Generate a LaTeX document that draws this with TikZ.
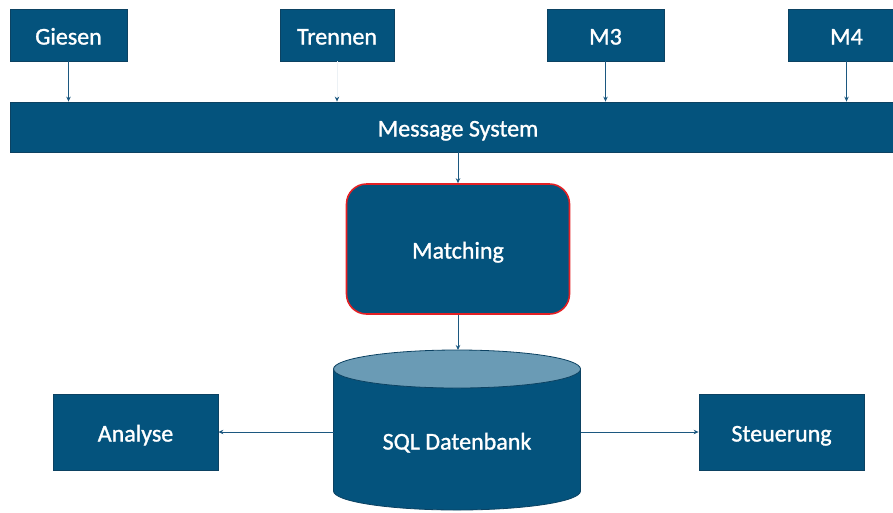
\documentclass[tikz,border=0pt]{standalone}
\usepackage{fontspec}
\setmainfont{Carlito}
\newfontfamily\boxfont{Carlito}[FakeBold=1.2]
\usetikzlibrary{arrows.meta}
\definecolor{boxblue}{RGB}{4,83,125}
\definecolor{edgeblue}{RGB}{12,66,98}
\definecolor{capblue}{RGB}{106,155,181}
\definecolor{linkblue}{RGB}{28,88,128}
\definecolor{faintlink}{RGB}{236,241,245}
\definecolor{alertred}{RGB}{228,32,36}

\begin{document}
\begin{tikzpicture}[x=1pt,y=-1pt,
  label text/.style={text=white, font=\boxfont\fontsize{24}{28}\selectfont,
    inner sep=0pt, text height=21pt, text depth=2pt},
  box/.style={label text, draw=edgeblue, fill=boxblue, line width=0.8pt},
  link/.style={draw=linkblue, line width=1pt, -{Stealth[length=5pt,width=4.5pt]}},
  faint link/.style={draw=faintlink, line width=1pt, -{Stealth[length=5pt,width=4.5pt,color=linkblue]}}]
\useasboundingbox (0,0) rectangle (893,512);

% producers feeding the message bus
\node[box, minimum width=117, minimum height=52] (giesen)  at (68.5,35)  {Giesen};
\node[box, minimum width=114, minimum height=52] (trennen) at (337,35)   {Trennen};
\node[box, minimum width=117, minimum height=52] (mthree)  at (605.5,35) {M3};
\node[box, minimum width=117, minimum height=52] (mfour)   at (846.5,35) {M4};

% message bus
\node[box, minimum width=896, minimum height=50] (bus) at (458,127) {Message System};

\draw[link]       (giesen.south)  -- (giesen.south  |- bus.north);
\draw[faint link] (trennen.south) -- (trennen.south |- bus.north);
\draw[link]       (mthree.south)  -- (mthree.south  |- bus.north);
\draw[link]       (mfour.south)   -- (mfour.south   |- bus.north);

% matching stage
\node[box, draw=alertred, line width=1.6pt, rounded corners=20pt,
      minimum width=223, minimum height=130] (match) at (458,249) {Matching};
\draw[link] (bus.south) -- (match.north);

% database cylinder
\fill[boxblue, draw=edgeblue, line width=0.8pt]
  (333.5,369) -- (333.5,491) arc[start angle=180, end angle=360, x radius=123.5pt, y radius=19pt]
  -- (580.5,369) -- cycle;
\filldraw[fill=capblue, draw=edgeblue, line width=0.8pt] (457,369) ellipse [x radius=123.5pt, y radius=19pt];
\coordinate (dbtop)  at (457,350);
\coordinate (dbwest) at (333.5,432);
\coordinate (dbeast) at (580.5,432);
\node[label text] (db) at (457,440) {SQL Datenbank};

\draw[link] (match.south) -- (match.south |- dbtop);

% consumers of the database
\node[box, minimum width=165, minimum height=76] (analyse)   at (135.5,432) {Analyse};
\node[box, minimum width=165, minimum height=76] (steuerung) at (781.5,432) {Steuerung};

\draw[link] (dbwest) -- (analyse.east);
\draw[link] (dbeast) -- (steuerung.west);
\end{tikzpicture}
\end{document}
